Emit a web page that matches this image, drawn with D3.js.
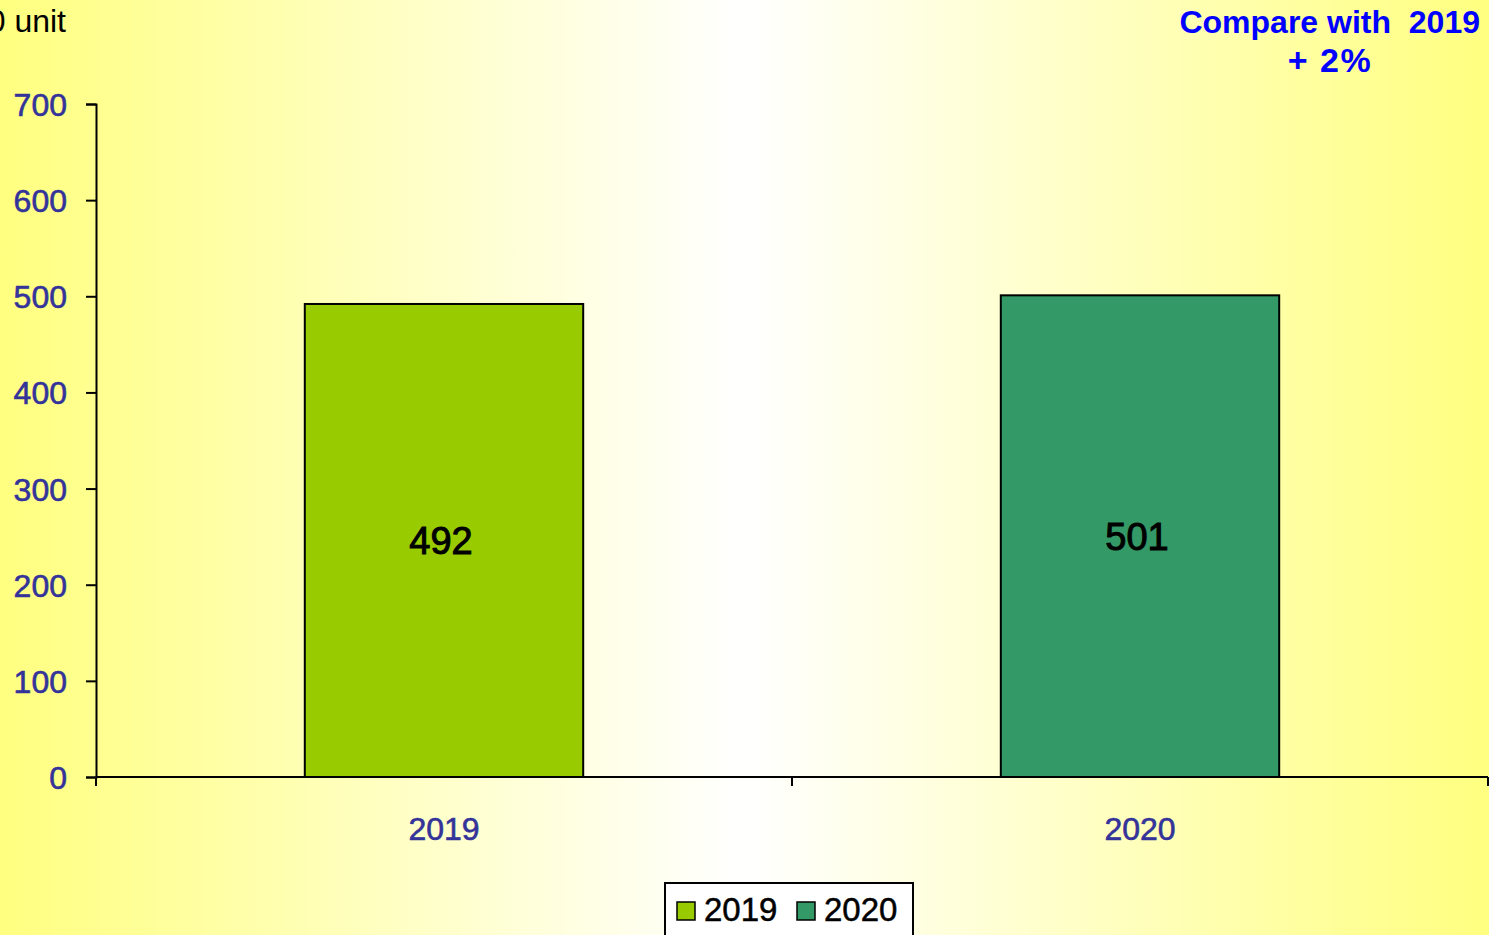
<!DOCTYPE html>
<html>
<head>
<meta charset="utf-8">
<script src="https://cdn.jsdelivr.net/npm/d3@7"></script>
<style>
  html, body { margin: 0; padding: 0; overflow: hidden; }
  svg { display: block; font-family: "Liberation Sans", Arial, sans-serif; }
</style>
</head>
<body>
<div id="chart"></div>
<script>
// data
const years  = ["2019", "2020"];
const values = [492, 501];
const colors = ["#99CC00", "#339966"];
const yTicks = [0, 100, 200, 300, 400, 500, 600, 700];
const unitLabel = "1000 unit";
const titleLines = ["Compare with  2019", "+ 2%"];

const width = 1489, height = 935;
const margin = { top: 104, right: 1, bottom: 158, left: 96 };
const axisBlue = "#333399";

const svg = d3.select("#chart").append("svg")
  .attr("width", width)
  .attr("height", height);

// background gradient
const defs = svg.append("defs");
const grad = defs.append("linearGradient").attr("id", "bg").attr("x1", 0).attr("x2", 1).attr("y1", 0).attr("y2", 0);
grad.append("stop").attr("offset", "0%").attr("stop-color", "#FFFF80");
grad.append("stop").attr("offset", "50%").attr("stop-color", "#FFFFFF");
grad.append("stop").attr("offset", "100%").attr("stop-color", "#FFFF80");
svg.append("rect").attr("width", width).attr("height", height).attr("fill", "url(#bg)");

const x = d3.scaleBand()
  .domain(years)
  .range([margin.left, width - margin.right])
  .paddingInner(0.6)
  .paddingOuter(0.3);

const y = d3.scaleLinear()
  .domain([0, 700])
  .range([height - margin.bottom, margin.top]);

// y axis
svg.append("g")
  .attr("transform", `translate(${margin.left},0)`)
  .call(d3.axisLeft(y).tickValues(yTicks).tickSize(10).tickPadding(19).tickFormat(d3.format("d")))
  .call(g => g.select(".domain").attr("stroke", "#000").attr("stroke-width", 2))
  .call(g => g.selectAll(".tick line").attr("stroke", "#000").attr("stroke-width", 2))
  .selectAll("text")
    .attr("font-size", 32)
    .attr("font-family", "Liberation Sans, Arial, sans-serif")
    .attr("fill", axisBlue)
    .attr("stroke", axisBlue)
    .attr("stroke-width", 0.6)
    .attr("dy", "0.36em");

// x axis line + category boundary ticks
const x0 = margin.left, step = x.step();
const bounds = d3.range(years.length + 1).map(i => x0 + i * step);
const gx = svg.append("g");
gx.append("line")
  .attr("x1", x0).attr("x2", d3.max(bounds))
  .attr("y1", y(0)).attr("y2", y(0))
  .attr("stroke", "#000").attr("stroke-width", 2);
gx.selectAll("line.tk")
  .data(bounds)
  .join("line")
    .attr("class", "tk")
    .attr("x1", d => d).attr("x2", d => d)
    .attr("y1", y(0)).attr("y2", y(0) + 9)
    .attr("stroke", "#000").attr("stroke-width", 2);
gx.selectAll("text")
  .data(years)
  .join("text")
    .attr("x", d => x(d) + x.bandwidth() / 2)
    .attr("y", y(0) + 63)
    .attr("text-anchor", "middle")
    .attr("font-size", 32)
    .attr("fill", axisBlue)
    .attr("stroke", axisBlue)
    .attr("stroke-width", 0.6)
    .text(d => d);

// bars
const data = years.map((yr, i) => ({ yr, v: values[i], c: colors[i] }));
svg.append("g").selectAll("rect")
  .data(data)
  .join("rect")
    .attr("x", d => x(d.yr))
    .attr("y", d => y(d.v))
    .attr("width", x.bandwidth())
    .attr("height", d => y(0) - y(d.v))
    .attr("fill", d => d.c)
    .attr("stroke", "#000")
    .attr("stroke-width", 2);

// value labels in middle of bars
svg.append("g").selectAll("text")
  .data(data)
  .join("text")
    .attr("x", d => x(d.yr) + x.bandwidth() / 2 - 3)
    .attr("y", d => (y(d.v) + y(0)) / 2)
    .attr("dy", "0.36em")
    .attr("text-anchor", "middle")
    .attr("font-size", 38)
    .attr("fill", "#000")
    .attr("stroke", "#000")
    .attr("stroke-width", 1)
    .text(d => d.v);

// unit label (partly cut at left edge)
svg.append("text")
  .attr("x", 66).attr("y", 32)
  .attr("text-anchor", "end")
  .attr("font-size", 32)
  .attr("fill", "#000")
  .text(unitLabel);

// comparison note
svg.append("text")
  .attr("x", 1480).attr("y", 33)
  .attr("text-anchor", "end")
  .attr("font-size", 32)
  .attr("font-weight", "bold")
  .attr("fill", "#0000FF")
  .attr("xml:space", "preserve")
  .style("white-space", "pre")
  .text(titleLines[0]);
svg.append("text")
  .attr("x", 1330).attr("y", 72)
  .attr("text-anchor", "middle")
  .attr("font-size", 34)
  .attr("font-weight", "bold")
  .attr("letter-spacing", 1.5)
  .attr("fill", "#0000FF")
  .text(titleLines[1]);

// legend
const lg = svg.append("g").attr("transform", "translate(665,883)");
lg.append("rect")
  .attr("width", 248).attr("height", 70)
  .attr("fill", "#FFFFFF").attr("stroke", "#000").attr("stroke-width", 2);
const items = lg.selectAll("g.item")
  .data(data)
  .join("g")
    .attr("class", "item")
    .attr("transform", (d, i) => `translate(${12 + i * 120},19)`);
items.append("rect")
  .attr("width", 18).attr("height", 18)
  .attr("fill", d => d.c).attr("stroke", "#000").attr("stroke-width", 1.5);
items.append("text")
  .attr("x", 27).attr("y", 19)
  .attr("font-size", 33)
  .attr("fill", "#000")
  .attr("stroke", "#000")
  .attr("stroke-width", 0.5)
  .text(d => d.yr);
</script>
</body>
</html>
